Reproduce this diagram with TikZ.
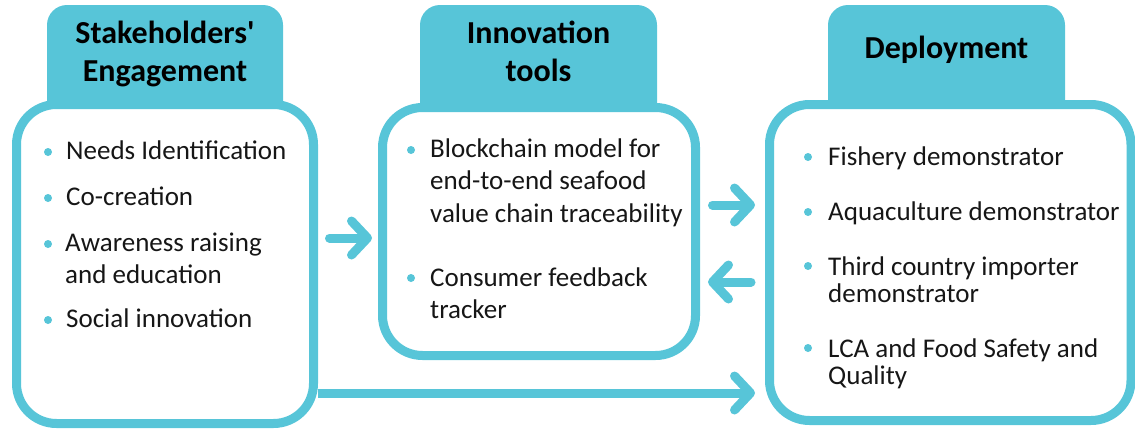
\documentclass[tikz,border=0pt]{standalone}
\usepackage{fontspec}
\setmainfont{Carlito}
\usetikzlibrary{arrows.meta}
\definecolor{cy}{RGB}{87,197,216}
\definecolor{ink}{RGB}{22,22,22}
\begin{document}
\begin{tikzpicture}[x=1pt,y=-1pt,
  panel/.style={draw=cy, line width=9pt, fill=white, rounded corners=40pt, inner sep=0pt},
  tab/.style={fill=cy, rounded corners=20pt, inner sep=0pt},
  tabtext/.style={font=\fontsize{32}{38}\selectfont\bfseries, text=black, align=center, inner sep=0pt, anchor=base},
  item/.style={font=\fontsize{27}{32}\selectfont, text=ink, align=left, anchor=base west, inner sep=0pt},
  itemtight/.style={item, font=\fontsize{27}{27}\selectfont},
  dot/.style={circle, fill=cy, minimum size=8pt, inner sep=0pt},
  flow/.style={draw=cy, line width=9pt, line cap=round, -{Straight Barb[length=16pt,width=34pt,round]}}
]
\useasboundingbox (0,0) rectangle (1135,431);

% header tabs
\node[tab, minimum width=236pt, minimum height=125pt] (h1) at (165,67.5) {};
\node[tab, minimum width=237pt, minimum height=125pt] (h2) at (538.5,67.5) {};
\node[tab, minimum width=237pt, minimum height=125pt] (h3) at (946.5,67.5) {};

% panels
\node[panel, minimum width=297pt, minimum height=319pt] (b1) at (165,264) {};
\node[panel, minimum width=313pt, minimum height=248pt] (b2) at (539,231.5) {};
\node[panel, minimum width=361.5pt, minimum height=316pt] (b3) at (950.25,262.5) {};

% header texts (base anchor = last line)
\node[tabtext] (t1) at (165,81) {Stakeholders\textquotesingle\\Engagement};
\node[tabtext] (t2) at (538.5,81) {Innovation\\tools};
\node[tabtext] (t3) at (946.5,58) {Deployment};

% panel 1 items
\node[dot] (d11) at (48,152) {};
\node[item] (i11) at (66,159) {Needs Identification};
\node[dot] (d12) at (48,198) {};
\node[item] (i12) at (66,205) {Co-creation};
\node[dot] (d13) at (48,244) {};
\node[item] (i13) at (65,283) {Awareness raising\\and education};
\node[dot] (d14) at (48,320) {};
\node[item] (i14) at (66,327) {Social innovation};

% panel 2 items
\node[dot] (d21) at (411,150) {};
\node[item, font=\fontsize{27}{32.5}\selectfont] (i21) at (430,222) {Blockchain model for\\end-to-end seafood\\value chain traceability};
\node[dot] (d22) at (411,278) {};
\node[item] (i22) at (430,318) {Consumer feedback\\tracker};

% panel 3 items
\node[dot] (d31) at (808,157) {};
\node[item] (i31) at (828,165) {Fishery demonstrator};
\node[dot] (d32) at (808,212) {};
\node[item] (i32) at (828,220) {Aquaculture demonstrator};
\node[dot] (d33) at (808,266) {};
\node[itemtight] (i33) at (828,302) {Third country importer\\demonstrator};
\node[dot] (d34) at (808,348) {};
\node[itemtight] (i34) at (828,384) {LCA and Food Safety and\\Quality};

% connectors
\coordinate (a1s) at (329.5,238);
\coordinate (a1e) at (372,238);
\coordinate (a2s) at (712.5,205);
\coordinate (a2e) at (755,205);
\coordinate (a3s) at (751,282);
\coordinate (a3e) at (708,282);
\coordinate (a4s) at (b1.east |- 0,393);
\coordinate (a4e) at (755,393);
\draw[flow] (a1s) -- (a1e);
\draw[flow] (a2s) -- (a2e);
\draw[flow] (a3s) -- (a3e);
\draw[flow, line cap=butt] (a4s) -- (a4e);
\end{tikzpicture}
\end{document}
